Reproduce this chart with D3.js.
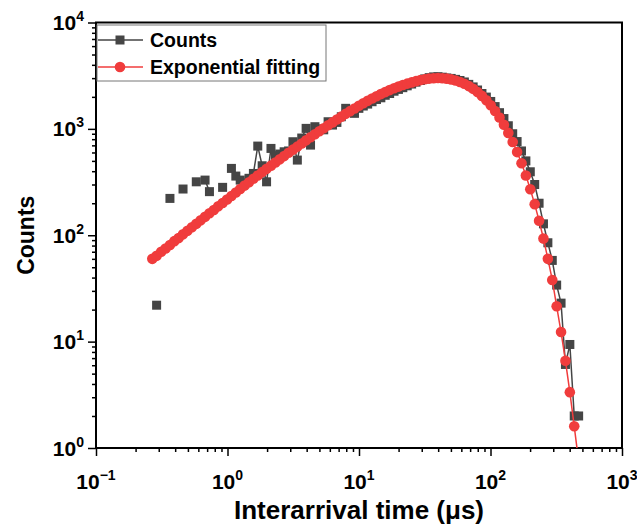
<!DOCTYPE html>
<html lang="en">
<head>
<meta charset="utf-8">
<title>Interarrival time distribution</title>
<script src="https://cdn.jsdelivr.net/npm/d3@7"></script>
<style>
	body { margin: 0; background: #fff; }
	text { font-family: Arial, "Liberation Sans", sans-serif; font-weight: bold; fill: #000; }
</style>
</head>
<body>
<script>

//
// Data
//

// bin centres (us), shared by both series
var timeBins = [
	0.268, 0.289, 0.313, 0.338, 0.365, 0.394, 0.425, 0.459, 0.496, 0.536,
	0.579, 0.625, 0.675, 0.729, 0.787, 0.850, 0.918, 0.992, 1.071, 1.157,
	1.249, 1.349, 1.457, 1.574, 1.699, 1.835, 1.982, 2.141, 2.312, 2.497,
	2.697, 2.913, 3.146, 3.397, 3.669, 3.962, 4.280, 4.622, 4.992, 5.391,
	5.822, 6.288, 6.791, 7.334, 7.921, 8.555, 9.239, 9.978, 10.78, 11.64,
	12.57, 13.58, 14.66, 15.83, 17.10, 18.47, 19.95, 21.54, 23.27, 25.13,
	27.14, 29.31, 31.65, 34.18, 36.92, 39.87, 43.06, 46.51, 50.23, 54.25,
	58.59, 63.27, 68.34, 73.80, 79.71, 86.08, 92.97, 100.4, 108.4, 117.1,
	126.5, 136.6, 147.5, 159.3, 172.1, 185.8, 200.7, 216.8, 234.1, 252.8,
	273.1, 294.9, 318.5, 344.0, 371.5, 401.2, 433.3, 468.0
];

// measured counts (0 = empty bin, not drawn on log axis)
var counts = [
	0, 22, 0, 0, 222, 0, 0, 272, 0, 0,
	318, 0, 330, 257, 0, 0, 282, 0, 425, 360,
	330, 310, 343, 381, 689, 450, 318, 655, 560, 580,
	609, 620, 757, 509, 820, 1011, 704, 1048, 1000, 980,
	1167, 1086, 1150, 1300, 1560, 1450, 1400, 1560, 1640, 1710,
	1800, 1890, 1960, 2070, 2150, 2260, 2350, 2440, 2540, 2640,
	2750, 2850, 2950, 3030, 3080, 3090, 3060, 3010, 2980, 2920,
	2850, 2760, 2620, 2480, 2320, 2150, 1990, 1810, 1620, 1420,
	1250, 1070, 900, 760, 620, 500, 395, 300, 200, 128,
	85, 58, 34, 23, 6.1, 9.4, 2, 2
];

// exponential fitting curve
var fitting = [
	60, 64, 70, 75, 81, 88, 94, 102, 110, 119,
	128, 138, 149, 161, 173, 187, 201, 217, 234, 252,
	272, 293, 315, 340, 365, 393, 421, 451, 483, 517,
	555, 596, 638, 681, 729, 780, 833, 891, 951, 1015,
	1081, 1151, 1225, 1303, 1384, 1468, 1556, 1647, 1740, 1834,
	1929, 2026, 2122, 2217, 2314, 2407, 2497, 2583, 2663, 2735,
	2810, 2874, 2927, 2968, 2995, 3005, 2995, 2965, 2918, 2850,
	2761, 2655, 2523, 2379, 2216, 2041, 1857, 1665, 1471, 1278,
	1092, 917, 752, 605, 475, 364, 271, 196, 137, 93,
	60, 38, 21.5, 12.3, 6.6, 3.35, 1.6, 0.75
];

var xTickExps = [-1, 0, 1, 2, 3];
var yTickExps = [0, 1, 2, 3, 4];
var seriesNames = ["Counts", "Exponential fitting"];
var xTitle = "Interarrival time (\u03bcs)";
var yTitle = "Counts";

//
// Layout
//
var width = 637, height = 527;
var plot = {left: 96, right: 622, top: 22.5, bottom: 448};
var grey = "#454545", red = "#f03c3c";

var svg = d3.select("body")
	.append("svg")
	.attr("width", width)
	.attr("height", height);

var x = d3.scaleLog().domain([0.1, 1000]).range([plot.left, plot.right]);
var y = d3.scaleLog().domain([1, 10000]).range([plot.bottom, plot.top]);

var minorsOf = function(lo, hi) {
	var out = [];
	for (var e = lo; e < hi; e++) {
		for (var m = 2; m < 10; m++) out.push(m * Math.pow(10, e));
	}
	return out;
};

var xMajors = xTickExps.map(function(e) { return Math.pow(10, e); });
var yMajors = yTickExps.map(function(e) { return Math.pow(10, e); });

// clip for data
svg.append("clipPath").attr("id", "clip")
	.append("rect")
	.attr("x", plot.left).attr("y", plot.top)
	.attr("width", plot.right - plot.left)
	.attr("height", plot.bottom - plot.top);

//
// Axes
//
var styleAxis = function(g) {
	g.selectAll("line").attr("stroke", "#000").attr("stroke-width", 1.5);
	g.select(".domain").remove();
};

svg.append("g")
	.attr("transform", "translate(0," + plot.bottom + ")")
	.call(d3.axisBottom(x).tickValues(xMajors).tickSize(8).tickFormat(""))
	.call(styleAxis);
svg.append("g")
	.attr("transform", "translate(0," + plot.bottom + ")")
	.call(d3.axisBottom(x).tickValues(minorsOf(-1, 3)).tickSize(4).tickFormat(""))
	.call(styleAxis);
svg.append("g")
	.attr("transform", "translate(" + plot.left + ",0)")
	.call(d3.axisLeft(y).tickValues(yMajors).tickSize(8).tickFormat(""))
	.call(styleAxis);
svg.append("g")
	.attr("transform", "translate(" + plot.left + ",0)")
	.call(d3.axisLeft(y).tickValues(minorsOf(0, 4)).tickSize(4).tickFormat(""))
	.call(styleAxis);

// frame
svg.append("rect")
	.attr("x", plot.left).attr("y", plot.top)
	.attr("width", plot.right - plot.left)
	.attr("height", plot.bottom - plot.top)
	.attr("fill", "none")
	.attr("stroke", "#000")
	.attr("stroke-width", 2);

var expText = function(e) { return e < 0 ? "\u2212" + (-e) : String(e); };

// x tick labels
var xl = svg.selectAll(".xlab")
	.data(xTickExps)
	.enter()
	.append("text")
	.attr("class", "xlab")
	.attr("x", function(e) { return x(Math.pow(10, e)); })
	.attr("y", 489)
	.attr("text-anchor", "middle")
	.style("font-size", "21px");
xl.append("tspan").text("10");
xl.append("tspan").attr("dy", -9).style("font-size", "14px").text(expText);

// y tick labels
var yl = svg.selectAll(".ylab")
	.data(yTickExps)
	.enter()
	.append("text")
	.attr("class", "ylab")
	.attr("x", 84)
	.attr("y", function(e) { return y(Math.pow(10, e)) + 7.5; })
	.attr("text-anchor", "end")
	.style("font-size", "21px");
yl.append("tspan").text("10");
yl.append("tspan").attr("dy", -9).style("font-size", "14px").text(expText);

// axis titles
svg.append("text")
	.attr("x", (plot.left + plot.right) / 2)
	.attr("y", 519)
	.attr("text-anchor", "middle")
	.style("font-size", "26px")
	.text(xTitle);

svg.append("text")
	.attr("transform", "translate(34," + ((plot.top + plot.bottom) / 2) + ") rotate(-90)")
	.attr("text-anchor", "middle")
	.style("font-size", "23px")
	.text(yTitle);

//
// Series
//
var countsData = timeBins.map(function(t, i) { return {t: t, v: counts[i]}; });
var fitData = timeBins.map(function(t, i) { return {t: t, v: fitting[i]}; });

var line = d3.line()
	.defined(function(d) { return d.v > 0; })
	.x(function(d) { return x(d.t); })
	.y(function(d) { return y(d.v); });

var dataLayer = svg.append("g").attr("clip-path", "url(#clip)");

dataLayer.append("path")
	.datum(countsData)
	.attr("d", line)
	.attr("fill", "none")
	.attr("stroke", grey)
	.attr("stroke-width", 1.5);

dataLayer.selectAll(".sq")
	.data(countsData.filter(function(d) { return d.v > 0; }))
	.enter()
	.append("rect")
	.attr("class", "sq")
	.attr("x", function(d) { return x(d.t) - 4.5; })
	.attr("y", function(d) { return y(d.v) - 4.5; })
	.attr("width", 9)
	.attr("height", 9)
	.attr("fill", grey);

dataLayer.append("path")
	.datum(fitData)
	.attr("d", line)
	.attr("fill", "none")
	.attr("stroke", red)
	.attr("stroke-width", 1.5);

dataLayer.selectAll(".dot")
	.data(fitData)
	.enter()
	.append("circle")
	.attr("class", "dot")
	.attr("cx", function(d) { return x(d.t); })
	.attr("cy", function(d) { return y(d.v); })
	.attr("r", 5.3)
	.attr("fill", red);

//
// Legend
//
var legend = svg.append("g");
legend.append("rect")
	.attr("x", 97).attr("y", 25)
	.attr("width", 229).attr("height", 56)
	.attr("fill", "#fff")
	.attr("stroke", "#777")
	.attr("stroke-width", 1);

var rows = legend.selectAll(".row")
	.data(seriesNames)
	.enter()
	.append("g")
	.attr("transform", function(d, i) { return "translate(0," + (40 + i * 27) + ")"; });

rows.append("line")
	.attr("x1", 98).attr("x2", 143)
	.attr("stroke", function(d, i) { return i ? red : grey; })
	.attr("stroke-width", 1.5);

rows.filter(function(d, i) { return i === 0; })
	.append("rect")
	.attr("x", 115.5).attr("y", -4.5).attr("width", 9).attr("height", 9)
	.attr("fill", grey);
rows.filter(function(d, i) { return i === 1; })
	.append("circle")
	.attr("cx", 120).attr("r", 5.3)
	.attr("fill", red);

rows.append("text")
	.attr("x", 150)
	.attr("y", 7)
	.style("font-size", "19.5px")
	.text(function(d) { return d; });

</script>
</body>
</html>
